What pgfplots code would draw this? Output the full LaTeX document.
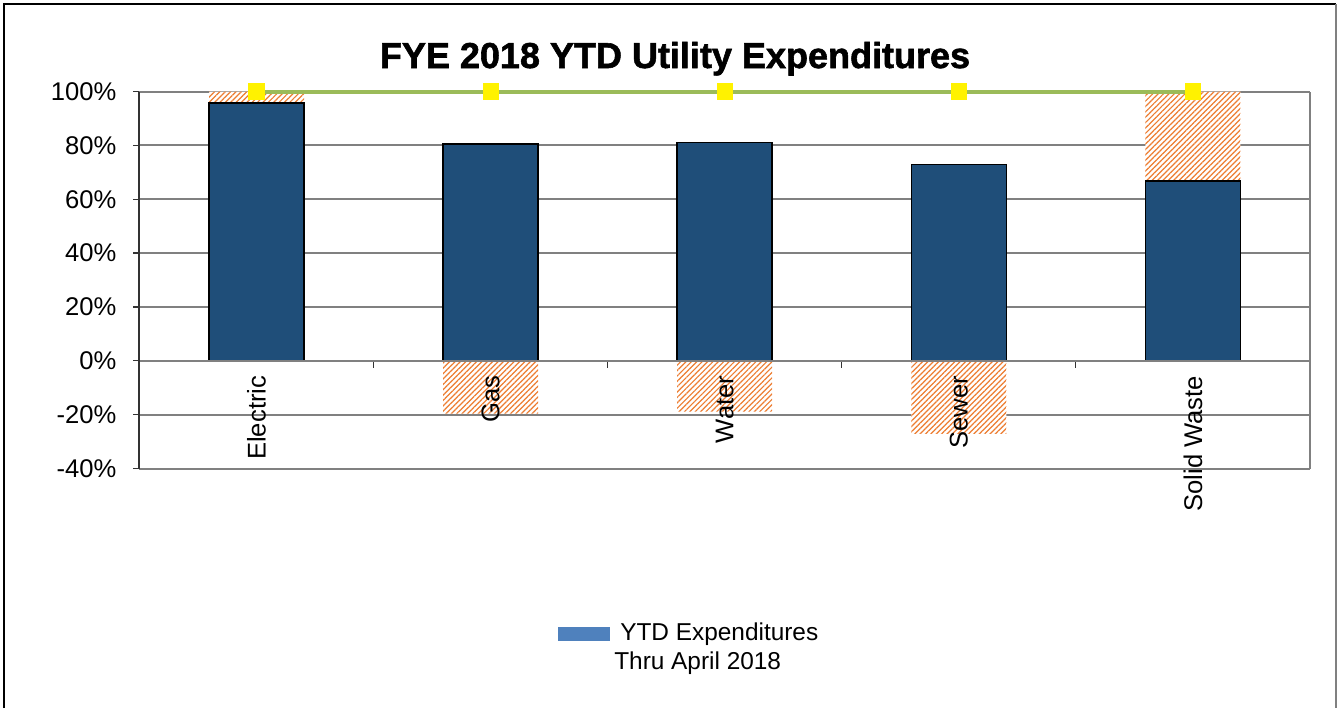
\documentclass[border=0pt]{standalone}
\usepackage{pgfplots}
\pgfplotsset{compat=1.18}
\usepackage{fontspec}
\setmainfont{Liberation Sans}
\newfontfamily\titlefont[FakeBold=1.6]{Liberation Sans}
\usetikzlibrary{patterns.meta}
\definecolor{navy}{RGB}{31,78,121}
\definecolor{hatch}{RGB}{237,125,49}
\definecolor{lgreen}{RGB}{155,187,89}
\definecolor{legblue}{RGB}{79,129,189}
\definecolor{gridgray}{RGB}{128,128,128}
\pgfplotsset{
  /pgfplots/layers/mylayers/.define layer set={
    axis background,axis grid,axis ticks,pre main,main,axis lines,
    axis tick labels,axis descriptions,axis foreground
  }{/pgfplots/layers/standard},
}
\begin{document}
\begin{tikzpicture}
\begin{axis}[
  set layers=mylayers,
  scale only axis, width=585.25pt, height=188.5pt,
  xmin=-0.5, xmax=4.5, ymin=-40, ymax=100,
  clip=false,
  axis x line=middle, axis y line=left,
  x axis line style={-, draw=gridgray, line width=1pt},
  y axis line style={-, draw=black!80, line width=1pt},
  tick align=outside,
  xtick={0,1,2,3,4}, xticklabels={Electric,Gas,Water,Sewer,Solid Waste},
  major x tick style={draw=none},
  minor xtick={-0.5,0.5,1.5,2.5,3.5,4.5},
  minor x tick style={draw=black!80, line width=0.6pt},
  minor tick length=3.5pt,
  x tick label style={rotate=90, anchor=east, xshift=-1pt},
  ytick={-40,-20,0,20,40,60,80,100},
  yticklabels={-40\%,-20\%,0\%,20\%,40\%,60\%,80\%,100\%},
  y tick label style={xshift=-5pt},
  major y tick style={draw=black!80, line width=0.6pt},
  major tick length=3pt,
  ymajorgrids, grid style={gridgray, line width=1pt},
  tick label style={font=\fontsize{12.8}{15}\selectfont},
  legend style={at={(0.4703,-0.476)}, anchor=center, draw=none, fill=none,
    font=\fontsize{12.2}{14.5}\selectfont, cells={align=left}},
  after end axis/.code={\draw[gridgray, line width=1pt] (rel axis cs:1,0) -- (rel axis cs:1,1);},
]
\addplot[ybar, bar width=47.5pt, bar shift=0pt, draw=none, fill=white,
  postaction={pattern={Lines[angle=45,distance=1.9pt,line width=0.6pt]}, pattern color=hatch},
  forget plot]
  coordinates {(0,100) (1,-19.6) (2,-18.9) (3,-27.1) (4,100)};
\addplot[ybar, bar width=47.5pt, bar shift=0pt, fill=navy, draw=black, line width=0.8pt,
  legend image code/.code={\fill[legblue] (1.5pt,3.75pt) rectangle (27pt,10.25pt);}]
  coordinates {(0,95.7) (1,80.4) (2,81.1) (3,72.9) (4,66.8)};
\addlegendentry{\hspace*{3pt}YTD Expenditures\\Thru April 2018}
\addplot[lgreen, line width=2pt, mark=square*, mark size=3.8pt,
  mark options={solid, fill=yellow, draw=yellow, line width=0pt}, forget plot]
  coordinates {(0,100) (1,100) (2,100) (3,100) (4,100)};
\end{axis}
\node[anchor=base, font=\fontsize{18}{20}\titlefont\bfseries] at (267.75pt,200.25pt) {FYE 2018 YTD Utility Expenditures};
\draw[black, line width=1pt] (-67.75pt,-119.75pt) -- (-67.75pt,232.25pt) -- (598.25pt,232.25pt);
\draw[gridgray, line width=1.2pt] (598.25pt,232.25pt) -- (598.25pt,-119.75pt);
\useasboundingbox (-69.75pt,-119.75pt) rectangle (599.75pt,234.25pt);
\end{tikzpicture}
\end{document}
